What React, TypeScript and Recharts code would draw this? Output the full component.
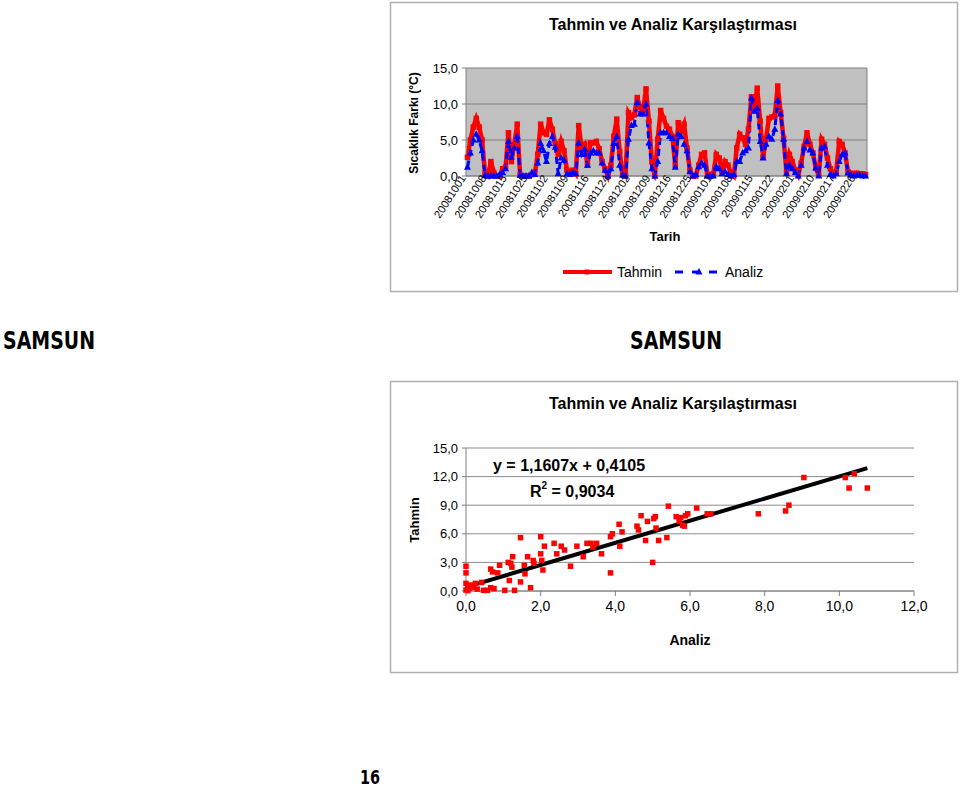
import React from 'react';
import { LineChart, Line, XAxis, YAxis, CartesianGrid, ScatterChart, Scatter, ReferenceLine } from 'recharts';

// ---------- data ----------
const tickDates = [
  '20081001', '20081008', '20081015', '20081025', '20081102', '20081109', '20081116',
  '20081124', '20081202', '20081209', '20081216', '20081225', '20090101', '20090108',
  '20090115', '20090122', '20090201', '20090210', '20090217', '20090226',
];
const LABEL_STEP = 7;

const tahmin = [
  2.6, 5.0, 6.8, 8.0, 6.8, 5.0, 0.3, 0.0, 2.0, 0.5,
  0.0, 0.0, 1.0, 1.2, 6.0, 2.0, 4.4, 7.2, 0.1, 0.0,
  0.0, 0.0, 0.2, 0.3, 3.0, 7.2, 6.0, 5.8, 7.8, 6.5,
  4.5, 3.0, 4.8, 3.5, 0.8, 0.5, 0.8, 0.3, 7.0, 4.0,
  4.4, 1.5, 4.6, 4.6, 4.8, 3.8, 2.0, 1.0, 0.0, 1.5,
  5.5, 7.9, 3.4, 0.2, 0.0, 8.8, 8.1, 8.5, 10.9, 9.5,
  9.0, 12.1, 7.6, 2.0, 0.0, 5.1, 9.1, 8.0, 6.9, 6.5,
  5.5, 1.5, 7.4, 6.2, 7.2, 3.9, 0.8, 0.0, 0.0, 1.5,
  3.0, 3.2, 0.2, 0.0, 0.3, 3.0, 2.5, 0.5, 2.0, 1.5,
  0.4, 0.0, 3.9, 5.8, 5.3, 4.4, 6.5, 11.0, 9.5, 12.2,
  7.6, 2.6, 5.2, 8.0, 8.2, 8.4, 12.5, 8.8, 5.2, 0.5,
  3.0, 2.0, 0.8, 0.1, 1.8, 4.1, 6.0, 4.4, 3.2, 1.1,
  0.1, 5.1, 4.4, 2.5, 1.0, 0.1, 0.6, 4.8, 4.4, 3.2,
  0.6, 0.4, 0.3, 0.4, 0.3, 0.3, 0.2,
];

const analiz = [
  1.2, 3.2, 5.0, 5.8, 5.0, 3.5, 0.1, 0.0, 0.0, 0.0,
  0.0, 0.2, 0.5, 1.0, 4.8, 2.6, 3.9, 5.5, 0.1, 0.0,
  0.0, 0.0, 0.5, 0.2, 1.8, 4.5, 3.5, 2.0, 4.5, 5.5,
  4.0, 0.3, 2.5, 2.2, 0.3, 0.2, 0.5, 0.3, 4.6, 3.0,
  3.7, 1.5, 3.2, 3.5, 3.2, 3.2, 1.8, 0.8, 0.0, 1.0,
  4.5, 5.5, 1.5, 0.1, 0.0, 5.1, 7.0, 7.2, 10.2, 8.6,
  8.6, 10.0, 4.6, 1.0, 0.0, 2.0, 6.0, 6.0, 6.0, 5.5,
  5.2, 1.2, 5.8, 5.5, 4.4, 3.5, 0.6, 0.0, 0.2, 1.3,
  1.8, 1.5, 0.0, 0.0, 0.0, 1.3, 1.0, 0.3, 0.6, 0.2,
  0.0, 0.2, 2.0, 2.0, 3.2, 3.5, 3.9, 10.8, 9.0, 9.4,
  4.8, 2.5, 4.4, 5.5, 5.1, 6.5, 10.5, 8.6, 5.1, 0.3,
  1.5, 1.0, 0.5, 0.0, 1.5, 3.9, 4.8, 3.6, 3.2, 1.1,
  0.0, 3.9, 4.1, 1.5, 0.2, 0.0, 0.3, 2.0, 3.0, 3.2,
  0.4, 0.1, 0.0, 0.1, 0.1, 0.0, 0.0,
];

const scatterAnaliz = [
  0.0, 0.0, 0.0, 0.05, 0.1, 0.0, 0.2, 0.3, 0.1, 0.05, 0.25, 0.14,
  0.42, 0.47, 0.57, 0.66, 0.71, 0.66, 0.75, 0.85, 0.9, 1.04, 1.13, 1.16,
  1.2, 1.25, 1.23, 1.3, 1.46, 1.46, 1.56, 1.58, 1.65, 1.73, 1.8, 1.82,
  2.0, 2.0, 2.03, 2.06, 2.1, 2.36, 2.43, 2.55, 2.64, 2.8, 2.97, 3.14,
  3.24, 3.35, 3.4, 3.5, 3.63, 3.87, 3.87, 3.92, 4.1, 4.12, 4.18, 4.58,
  4.62, 4.69, 4.81, 4.86, 5.0, 5.03, 5.07, 5.09, 5.16, 5.38, 5.42, 5.63,
  5.71, 5.75, 5.8, 5.85, 5.88, 5.94, 6.18, 6.46, 6.56, 7.83, 8.56, 8.65,
  9.05, 10.16, 10.4, 10.26, 10.75,
];
const scatterTahmin = [
  2.6, 1.9, 0.8, 0.5, 0.3, 0.1, 0.4, 0.2, 0.6, 0.05, 0.8, 0.6,
  0.9, 0.07, 0.07, 2.3, 2.0, 0.35, 0.25, 1.9, 2.7, 0.07, 3.0, 1.1,
  2.9, 3.6, 2.5, 0.07, 5.6, 0.95, 2.7, 1.8, 3.6, 0.35, 3.2, 2.9,
  5.7, 3.9, 3.2, 2.2, 4.7, 5.0, 3.9, 4.7, 4.3, 2.6, 4.7, 3.6,
  5.0, 5.0, 4.6, 5.0, 3.9, 1.9, 5.7, 6.0, 7.0, 4.7, 6.2, 6.8,
  6.4, 7.9, 5.3, 7.3, 3.0, 7.6, 7.8, 6.6, 5.3, 5.6, 8.9, 7.8,
  7.3, 7.7, 6.9, 6.8, 7.9, 8.1, 8.7, 8.1, 8.1, 8.1, 8.4, 9.0,
  11.9, 11.9, 12.3, 10.8, 10.8,
];

const TREND_SLOPE = 1.1607;
const TREND_INTERCEPT = 0.4105;
const R_SQUARED = 0.9034;

const topYTicks = [0, 5, 10, 15];
const scatterXTicks = [0, 2, 4, 6, 8, 10, 12];
const scatterYTicks = [0, 3, 6, 9, 12, 15];

// ---------- derived ----------
const FONT = '"Liberation Sans", Arial, sans-serif';
const HEAD = '"DejaVu Sans", sans-serif';
const fmt1 = (v: number) => v.toFixed(1).replace('.', ',');
const fmtNum = (v: number) => String(v).replace('.', ',');

const N = tahmin.length;
const lineData = tahmin.map((t, i) => ({ i, tahmin: t, analiz: analiz[i] }));
const dateTickIdx = tickDates.map((_, k) => k * LABEL_STEP);
const scatterData = scatterAnaliz.map((a, k) => ({ x: a, y: scatterTahmin[k] }));
const xMax = Math.max(...scatterAnaliz);
const trendSegment = [
  { x: 0, y: TREND_INTERCEPT },
  { x: xMax, y: TREND_SLOPE * xMax + TREND_INTERCEPT },
];

// ---------- shapes ----------
const RedSquare = (p: any) => (
  <rect key={`r${p.index}`} x={p.cx - 2.75} y={p.cy - 2.75} width={5.5} height={5.5} fill="#FF0000" />
);
const BlueTriangle = (p: any) => (
  <path
    key={`b${p.index}`}
    d={`M${p.cx},${p.cy - 4} L${p.cx + 3.5},${p.cy + 2.5} L${p.cx - 3.5},${p.cy + 2.5} Z`}
    fill="#0000FF"
  />
);
const ScatterSquare = (p: any) => (
  <rect x={p.cx - 2.75} y={p.cy - 2.75} width={5.5} height={5.5} fill="#FF0000" />
);

const DateTick = (p: any) => {
  const label = tickDates[Math.round(p.payload.value / LABEL_STEP)];
  const x = p.x - 1;
  const y = p.y + 2;
  return (
    <text
      x={x}
      y={y}
      transform={`rotate(-57 ${x} ${y})`}
      textAnchor="end"
      fontSize={11}
      fontFamily={FONT}
      fill="#000"
    >
      {label}
    </text>
  );
};

export default function App() {
  return (
    <div style={{ position: 'absolute', left: 0, top: 0, width: 960, height: 787, background: '#fff', overflow: 'hidden' }}>
      {/* Top line chart */}
      <div style={{ position: 'absolute', left: 390, top: 2 }}>
        <LineChart width={567} height={289} data={lineData} margin={{ top: 66, right: 90, bottom: 55, left: 16 }}>
          <CartesianGrid vertical={false} fill="#C0C0C0" stroke="#808080" strokeWidth={1} />
          <XAxis
            dataKey="i"
            type="number"
            domain={[-0.5, N - 0.5]}
            ticks={dateTickIdx}
            interval={0}
            height={60}
            tickSize={0}
            tickMargin={0}
            tickLine={false}
            axisLine={{ stroke: '#808080' }}
            tick={<DateTick />}
          />
          <YAxis
            type="number"
            domain={[0, 15]}
            ticks={topYTicks}
            width={60}
            tickSize={4}
            tickMargin={4}
            tickFormatter={fmt1}
            tick={{ fontSize: 13, fill: '#000', fontFamily: FONT }}
            tickLine={{ stroke: '#808080' }}
            axisLine={{ stroke: '#808080' }}
          />
          <ReferenceLine x={N - 0.5} stroke="#808080" />
          <Line
            type="linear"
            dataKey="tahmin"
            stroke="#FF0000"
            strokeWidth={4.5}
            dot={RedSquare}
            activeDot={false}
            isAnimationActive={false}
          />
          <Line
            type="linear"
            dataKey="analiz"
            stroke="#0000FF"
            strokeWidth={3}
            strokeDasharray="7 4"
            dot={BlueTriangle}
            activeDot={false}
            isAnimationActive={false}
          />
        </LineChart>
      </div>

      {/* Scatter chart */}
      <div style={{ position: 'absolute', left: 390, top: 381 }}>
        <ScatterChart width={567} height={291} margin={{ top: 67, right: 43, bottom: 51, left: 16 }}>
          <CartesianGrid vertical={false} stroke="#8C8C8C" strokeWidth={1} />
          <XAxis
            dataKey="x"
            type="number"
            domain={[0, 12]}
            ticks={scatterXTicks}
            interval={0}
            height={30}
            tickSize={5}
            tickMargin={5}
            tickFormatter={fmt1}
            tick={{ fontSize: 14, fill: '#000', fontFamily: FONT }}
            tickLine={{ stroke: '#808080' }}
            axisLine={{ stroke: '#808080' }}
          />
          <YAxis
            dataKey="y"
            type="number"
            domain={[0, 15]}
            ticks={scatterYTicks}
            interval={0}
            width={60}
            tickSize={4}
            tickMargin={4}
            tickFormatter={fmt1}
            tick={{ fontSize: 13, fill: '#000', fontFamily: FONT }}
            tickLine={{ stroke: '#808080' }}
            axisLine={{ stroke: '#808080' }}
          />
          <Scatter data={scatterData} fill="#FF0000" shape={ScatterSquare} isAnimationActive={false} />
          <ReferenceLine segment={trendSegment} stroke="#000" strokeWidth={4} />
        </ScatterChart>
      </div>

      {/* Static texts, frames and legend */}
      <svg width={960} height={787} style={{ position: 'absolute', left: 0, top: 0, pointerEvents: 'none' }}>
        <rect x={390.5} y={2.5} width={567} height={289} fill="none" stroke="#B0B0B0" strokeWidth={1.5} />
        <rect x={390.5} y={381.5} width={567} height={291} fill="none" stroke="#B0B0B0" strokeWidth={1.5} />

        <text x={673} y={30} textAnchor="middle" fontSize={16} fontWeight="bold" fontFamily={FONT}>
          Tahmin ve Analiz Karşılaştırması
        </text>
        <text
          x={418}
          y={123}
          transform="rotate(-90 418 123)"
          textAnchor="middle"
          fontSize={12}
          fontWeight="bold"
          fontFamily={FONT}
        >
          Sıcaklık Farkı (°C)
        </text>
        <text x={665} y={241} textAnchor="middle" fontSize={13} fontWeight="bold" fontFamily={FONT}>
          Tarih
        </text>

        {/* legend */}
        <line x1={563} y1={272} x2={612} y2={272} stroke="#FF0000" strokeWidth={4} />
        <rect x={584.5} y={269.5} width={5} height={5} fill="#FF0000" />
        <text x={617} y={277} fontSize={14} fontFamily={FONT}>Tahmin</text>
        <line x1={675} y1={272} x2={723} y2={272} stroke="#0000FF" strokeWidth={3} strokeDasharray="8 9" />
        <path d="M699,268 L702.5,274.5 L695.5,274.5 Z" fill="#0000FF" />
        <text x={725} y={277} fontSize={14} fontFamily={FONT}>Analiz</text>

        <text x={3} y={349} fontSize={25} fontWeight="bold" fontFamily={HEAD} textLength={92} lengthAdjust="spacingAndGlyphs">
          SAMSUN
        </text>
        <text x={630} y={349} fontSize={25} fontWeight="bold" fontFamily={HEAD} textLength={92} lengthAdjust="spacingAndGlyphs">
          SAMSUN
        </text>

        <text x={673} y={409} textAnchor="middle" fontSize={16} fontWeight="bold" fontFamily={FONT}>
          Tahmin ve Analiz Karşılaştırması
        </text>
        <text
          x={419}
          y={520}
          transform="rotate(-90 419 520)"
          textAnchor="middle"
          fontSize={13}
          fontWeight="bold"
          fontFamily={FONT}
        >
          Tahmin
        </text>
        <text x={690} y={645} textAnchor="middle" fontSize={14} fontWeight="bold" fontFamily={FONT}>
          Analiz
        </text>
        <text x={493} y={471} fontSize={16} fontWeight="bold" fontFamily={FONT}>
          {`y = ${fmtNum(TREND_SLOPE)}x + ${fmtNum(TREND_INTERCEPT)}`}
        </text>
        <text x={530} y={497} fontSize={16} fontWeight="bold" fontFamily={FONT}>
          R<tspan fontSize={10} dy={-8}>2</tspan>
          <tspan dy={8}>{` = ${fmtNum(R_SQUARED)}`}</tspan>
        </text>

        <text x={360} y={784} fontSize={19} fontWeight="bold" fontFamily={HEAD} textLength={20} lengthAdjust="spacingAndGlyphs">
          16
        </text>
      </svg>
    </div>
  );
}
